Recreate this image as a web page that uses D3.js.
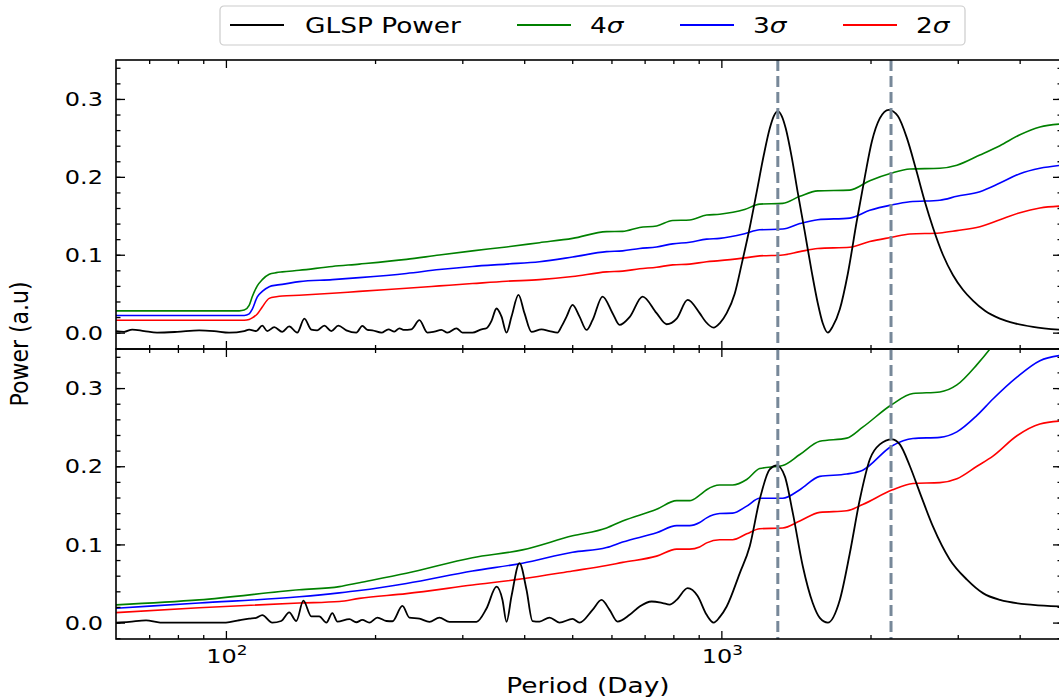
<!DOCTYPE html>
<html>
<head>
<meta charset="utf-8">
<script src="https://cdn.jsdelivr.net/npm/d3@7"></script>
<style>
  html, body { margin: 0; padding: 0; background: #fff; }
  svg { display: block; font-family: "DejaVu Sans", sans-serif; }
  .tick line { stroke: #000; stroke-width: 1.3; }
</style>
</head>
<body>
<svg id="chart" width="1059" height="700"></svg>
<script>
// --- data ---
const seriesLabels = ["GLSP Power", "4σ", "3σ", "2σ"];
const seriesColors = ["#000000", "#008000", "#0000ff", "#ff0000"];
const peakPeriods = [1300, 2200];
const yTickValues = [0, 0.1, 0.2, 0.3];
const xMajorTicks = [100, 1000];
const xMinorTicks = [70, 80, 90, 200, 300, 400, 500, 600, 700, 800, 900, 2000, 3000, 4000];

// top panel periodogram
const glspPeriodTop = [60, 62.3, 64.7, 68.4, 72.6, 79.7, 88.3, 94.7, 101.5, 108.9, 111.4, 115.1, 118.4, 121.2,
  125.2, 129.9, 134.2, 139.3, 144.0, 148.7, 152.9, 158.0, 163.2, 168.6, 175.0, 183.3, 188.5, 193.0, 197.5,
  206.0, 212.8, 218.8, 224.0, 228.2, 236.8, 245.8, 255.1, 263.5, 272.2, 280.0, 291.9, 300.2, 314.5, 328.0,
  335.7, 343.6, 351.7, 360.0, 368.4, 377.1, 389.5, 400.5, 413.8, 433.5, 449.9, 467.0, 475.8, 487.0, 500.8,
  517.3, 534.4, 549.5, 575.7, 603.1, 623.1, 652.8, 693.4, 740.1, 775.4, 812.4, 855.0, 904.0, 929.6, 964.7,
  992.2, 1025, 1064, 1099, 1141, 1178, 1218, 1252, 1276, 1300, 1324, 1349, 1387, 1426, 1473, 1522, 1565,
  1602, 1640, 1678, 1734, 1799, 1876, 1948, 2012, 2088, 2178, 2271, 2368, 2470, 2575, 2673, 2800, 2933,
  3073, 3219, 3404, 3649, 3913, 4256, 4870];
const glspPowerTop = [0.002, 0.001, 0.004, 0.002, 0.000, 0.001, 0.003, 0.002, 0.000, 0.002, 0.004, 0.002, 0.009, 0.002,
  0.007, 0.001, 0.008, 0.000, 0.018, 0.004, 0.003, 0.009, 0.002, 0.009, 0.003, 0.000, 0.0086, 0.0035, 0.003,
  0.000, 0.0043, 0.0013, 0.0056, 0.0035, 0.0043, 0.016, 0.000, 0.0013, 0.0035, 0.000, 0.0056, 0.000, 0.000, 0.0043,
  0.0056, 0.015, 0.031, 0.0206, 0.000, 0.0206, 0.0484, 0.025, 0.001, 0.0043, 0.002, 0.000, 0.008, 0.0206, 0.0356,
  0.0206, 0.0035, 0.016, 0.0463, 0.025, 0.0099, 0.020, 0.0463, 0.025, 0.0108, 0.018, 0.042, 0.025, 0.014, 0.0065,
  0.012, 0.025, 0.050, 0.088, 0.135, 0.180, 0.228, 0.262, 0.278, 0.284, 0.278, 0.262, 0.225, 0.180, 0.130, 0.078, 0.038,
  0.012, 0.000, 0.008, 0.030, 0.075, 0.143, 0.200, 0.245, 0.275, 0.286, 0.278, 0.250, 0.210, 0.168, 0.135, 0.100, 0.074,
  0.055, 0.041, 0.028, 0.018, 0.012, 0.0075, 0.0035];

// top panel significance levels
const levelPeriodTop = [60, 106.4, 108.9, 111.4, 113.0, 115.7, 118.4, 122.3, 126.4, 129.9, 140.6, 164.0, 185.9,
  231.4, 269.7, 314.5, 368.4, 429.5, 500.8, 586.5, 631.9, 683.9, 740.1, 797.4, 862.9, 933.9, 992.2, 1114, 1195,
  1330, 1440, 1565, 1816, 1993, 2209, 2402, 2761, 2988, 3325, 3649, 4005, 4395, 4870];
const sigma4Top = [0.028, 0.028, 0.029, 0.035, 0.046, 0.060, 0.068, 0.075, 0.077, 0.078, 0.080, 0.085, 0.088, 0.094,
  0.0997, 0.105, 0.110, 0.1155, 0.121, 0.1297, 0.130, 0.135, 0.137, 0.144, 0.1447, 0.151, 0.152, 0.158, 0.165, 0.166,
  0.175, 0.182, 0.183, 0.195, 0.205, 0.210, 0.211, 0.215, 0.228, 0.240, 0.254, 0.264, 0.268];
const sigma3Top = [0.022, 0.022, 0.022, 0.024, 0.030, 0.046, 0.053, 0.059, 0.061, 0.062, 0.0655, 0.068, 0.0706, 0.076,
  0.081, 0.085, 0.088, 0.091, 0.097, 0.104, 0.105, 0.108, 0.110, 0.114, 0.116, 0.120, 0.121, 0.127, 0.132, 0.133,
  0.140, 0.145, 0.147, 0.157, 0.164, 0.168, 0.170, 0.175, 0.181, 0.192, 0.204, 0.211, 0.215];
const sigma2Top = [0.016, 0.016, 0.016, 0.017, 0.019, 0.024, 0.033, 0.044, 0.046, 0.047, 0.048, 0.0505, 0.053, 0.057,
  0.060, 0.063, 0.066, 0.068, 0.072, 0.078, 0.079, 0.082, 0.084, 0.087, 0.088, 0.091, 0.0924, 0.096, 0.0985, 0.0997,
  0.104, 0.108, 0.1096, 0.117, 0.1225, 0.1267, 0.128, 0.131, 0.136, 0.145, 0.154, 0.160, 0.1626];

// bottom panel periodogram
const glspPeriodBottom = [60, 63.8, 69.0, 73.7, 88.3, 100, 106.4, 111.4, 115.1, 118.4, 124.0, 129.3, 134.2, 138.7,
  143.3, 148.7, 154.3, 159.5, 164.0, 167.9, 177.5, 183.3, 188.5, 194.8, 202.2, 210.8, 216.8, 227.1, 234.6, 245.8,
  257.5, 269.7, 282.6, 296.0, 320.4, 335.7, 351.7, 361.6, 368.4, 377.1, 391.3, 404.3, 415.7, 429.5, 449.9, 471.3,
  500.8, 517.3, 549.5, 573.0, 594.8, 617.3, 652.8, 683.9, 723.1, 761.1, 786.4, 812.4, 855.0, 895.6, 933.9, 964.7,
  992.2, 1025, 1089, 1141, 1195, 1252, 1294, 1343, 1394, 1460, 1529, 1580, 1640, 1734, 1817, 1903, 1994, 2088,
  2209, 2292, 2402, 2516, 2673, 2892, 3131, 3373, 3649, 4256, 4870];
const glspPowerBottom = [0.000, 0.001, 0.0028, 0.000, 0.000, 0.000, 0.003, 0.005, 0.006, 0.0095, 0.000, 0.002, 0.013, 0.002,
  0.028, 0.008, 0.008, 0.000, 0.012, 0.0013, 0.0045, 0.0004, 0.0034, 0.000, 0.0064, 0.002, 0.0017, 0.0214, 0.0064, 0.005,
  0.001, 0.0064, 0.001, 0.001, 0.001, 0.018, 0.046, 0.029, 0.001, 0.034, 0.076, 0.042, 0.002, 0.0013, 0.0064, 0.000,
  0.0047, 0.000, 0.0163, 0.029, 0.0163, 0.0013, 0.0099, 0.0206, 0.027, 0.025, 0.023, 0.029, 0.044, 0.034, 0.0099, 0.000,
  0.007, 0.0206, 0.063, 0.0976, 0.1575, 0.196, 0.201, 0.187, 0.140, 0.072, 0.025, 0.006, 0.000, 0.029, 0.089, 0.1575, 0.209, 0.228,
  0.2345, 0.228, 0.200, 0.166, 0.123, 0.0805, 0.055, 0.0377, 0.029, 0.0227, 0.0205];

// bottom panel significance levels
const levelPeriodBottom = [60, 88.3, 140.6, 169.4, 185.9, 231.4, 314.5, 396.8, 500.8, 586.5, 631.9, 740.1, 812.4,
  862.9, 904.0, 933.9, 992.2, 1054, 1125, 1195, 1330, 1440, 1580, 1791, 1929, 2209, 2436, 2761, 2988, 3280, 3533,
  3950, 4395, 4870];
const sigma4Bottom = [0.0227, 0.029, 0.042, 0.046, 0.051, 0.063, 0.083, 0.093, 0.111, 0.121, 0.130, 0.145, 0.156, 0.156,
  0.163, 0.170, 0.176, 0.176, 0.183, 0.197, 0.201, 0.215, 0.232, 0.236, 0.250, 0.279, 0.293, 0.295, 0.304, 0.330, 0.355,
  0.40, 0.43, 0.45];
const sigma3Bottom = [0.0184, 0.025, 0.033, 0.038, 0.041, 0.050, 0.066, 0.076, 0.090, 0.096, 0.103, 0.115, 0.124, 0.124,
  0.128, 0.134, 0.1395, 0.140, 0.149, 0.159, 0.159, 0.170, 0.187, 0.190, 0.195, 0.226, 0.2355, 0.237, 0.244, 0.265, 0.286,
  0.314, 0.335, 0.342];
const sigma2Bottom = [0.0128, 0.019, 0.025, 0.027, 0.031, 0.037, 0.048, 0.056, 0.066, 0.073, 0.077, 0.085, 0.094, 0.094,
  0.0968, 0.102, 0.106, 0.106, 0.1135, 0.120, 0.121, 0.130, 0.141, 0.143, 0.151, 0.1695, 0.178, 0.179, 0.184, 0.200, 0.213,
  0.239, 0.254, 0.258];

// --- layout ---
const svg = d3.select("#chart");
const left = 116, right = 1062;
const panels = [
  { top: 60, bottom: 349, glsp: [glspPeriodTop, glspPowerTop],
    levels: [levelPeriodTop, sigma4Top, sigma3Top, sigma2Top], showX: false },
  { top: 349, bottom: 639, glsp: [glspPeriodBottom, glspPowerBottom],
    levels: [levelPeriodBottom, sigma4Bottom, sigma3Bottom, sigma2Bottom], showX: true }
];
const stretch = 1.2; // text in the reference is a bit wide

const x = d3.scaleLog().domain([60, 4870]).range([left, right]);

panels.forEach((p, pi) => {
  const y = d3.scaleLinear().domain([-0.021, 0.35]).range([p.bottom, p.top]);
  const g = svg.append("g");

  g.append("clipPath").attr("id", "clip" + pi)
    .append("rect")
    .attr("x", left).attr("y", p.top)
    .attr("width", right - left).attr("height", p.bottom - p.top);

  const plot = g.append("g").attr("clip-path", `url(#clip${pi})`);
  const line = d3.line()
    .x(d => x(d[0]))
    .y(d => y(d[1]))
    .curve(d3.curveMonotoneX);

  // significance levels
  const [lp, ...levelVals] = p.levels;
  levelVals.forEach((vals, i) => {
    plot.append("path")
      .datum(lp.map((per, j) => [per, vals[j]]))
      .attr("d", line)
      .attr("fill", "none")
      .attr("stroke", seriesColors[i + 1])
      .attr("stroke-width", 1.6);
  });

  // periodogram
  const [gp, gv] = p.glsp;
  plot.append("path")
    .datum(gp.map((per, j) => [per, gv[j]]))
    .attr("d", line)
    .attr("fill", "none")
    .attr("stroke", seriesColors[0])
    .attr("stroke-width", 1.8);

  // peak markers
  plot.selectAll(".peak")
    .data(peakPeriods)
    .join("line")
    .attr("x1", d => x(d)).attr("x2", d => x(d))
    .attr("y1", p.top).attr("y2", p.bottom)
    .attr("stroke", "#778899")
    .attr("stroke-width", 3)
    .attr("stroke-dasharray", "11,5");

  // ticks (all inward)
  const axes = [
    [d3.axisBottom(x).tickValues(xMajorTicks).tickSize(-8), `translate(0,${p.bottom})`],
    [d3.axisBottom(x).tickValues(xMinorTicks).tickSize(-4), `translate(0,${p.bottom})`],
    [d3.axisTop(x).tickValues(xMajorTicks).tickSize(-8), `translate(0,${p.top})`],
    [d3.axisTop(x).tickValues(xMinorTicks).tickSize(-4), `translate(0,${p.top})`],
    [d3.axisLeft(y).tickValues(yTickValues).tickSize(-9), `translate(${left},0)`],
    [d3.axisLeft(y).tickValues(d3.range(-0.02, 0.35, 0.02)).tickSize(-4.5), `translate(${left},0)`],
    [d3.axisRight(y).tickValues(yTickValues).tickSize(-9), `translate(${right},0)`],
    [d3.axisRight(y).tickValues(d3.range(-0.02, 0.35, 0.02)).tickSize(-4.5), `translate(${right},0)`]
  ];
  axes.forEach(([ax, tr]) => {
    const a = g.append("g").attr("transform", tr).call(ax.tickFormat(""));
    a.select(".domain").remove();
    a.selectAll("text").remove();
  });

  // frame
  g.append("rect")
    .attr("x", left).attr("y", p.top)
    .attr("width", right - left).attr("height", p.bottom - p.top)
    .attr("fill", "none").attr("stroke", "#000").attr("stroke-width", 1.6);

  // y tick labels
  g.selectAll(".ylab")
    .data(yTickValues)
    .join("text")
    .attr("transform", d => `translate(${left - 13},${y(d)}) scale(${stretch},1)`)
    .attr("text-anchor", "end")
    .attr("dy", "0.36em")
    .attr("font-size", 20)
    .text(d => d3.format(".1f")(d));

  if (p.showX) {
    const t = g.selectAll(".xlab")
      .data(xMajorTicks)
      .join("text")
      .attr("transform", d => `translate(${x(d) + 1},${p.bottom + 24}) scale(${stretch},1)`)
      .attr("text-anchor", "middle")
      .attr("font-size", 20);
    t.append("tspan").text("10");
    t.append("tspan").attr("dy", -8).attr("font-size", 14).text(d => Math.round(Math.log10(d)));
  }
});

// axis titles
svg.append("text")
  .attr("transform", `translate(${(left + right) / 2 - 1},693) scale(${stretch},1)`)
  .attr("text-anchor", "middle")
  .attr("font-size", 22)
  .text("Period (Day)");

svg.append("text")
  .attr("transform", "translate(28,344) rotate(-90) scale(1,1.15)")
  .attr("text-anchor", "middle")
  .attr("font-size", 22)
  .text("Power (a.u)");

// legend
const legend = svg.append("g");
legend.append("rect")
  .attr("x", 220).attr("y", 6).attr("width", 745).attr("height", 39)
  .attr("rx", 4)
  .attr("fill", "#fff").attr("stroke", "#cccccc").attr("stroke-width", 1.2);

const legendX = [230, 517, 680, 843];
const items = legend.selectAll(".item")
  .data(seriesLabels)
  .join("g")
  .attr("transform", (d, i) => `translate(${legendX[i]},0)`);
items.append("line")
  .attr("x1", 0).attr("x2", 54).attr("y1", 25).attr("y2", 25)
  .attr("stroke", (d, i) => seriesColors[i]).attr("stroke-width", 2);
const lt = items.append("text")
  .attr("transform", (d, i) => `translate(${i === 0 ? 75 : 73},33) scale(${stretch},1)`)
  .attr("font-size", 22);
lt.each(function (d) {
  const el = d3.select(this);
  if (d.endsWith("σ")) {
    el.append("tspan").text(d.slice(0, -1));
    el.append("tspan").attr("font-style", "italic").text("σ");
  } else {
    el.text(d);
  }
});
</script>
</body>
</html>
